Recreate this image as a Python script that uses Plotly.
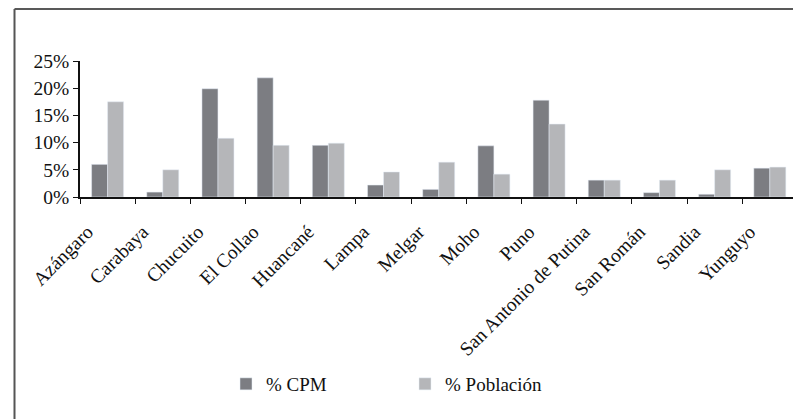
import plotly.graph_objects as go

categories = ["Azángaro", "Carabaya", "Chucuito", "El Collao", "Huancané", "Lampa",
              "Melgar", "Moho", "Puno", "San Antonio de Putina", "San Román", "Sandia", "Yunguyo"]
cpm = [6.0, 0.9, 19.9, 21.9, 9.5, 2.2, 1.4, 9.4, 17.8, 3.1, 0.8, 0.5, 5.3]
poblacion = [17.5, 5.0, 10.8, 9.5, 9.9, 4.6, 6.4, 4.2, 13.4, 3.1, 3.1, 5.0, 5.5]
y_ticks = [0, 5, 10, 15, 20, 25]
y_labels = ["0%", "5%", "10%", "15%", "20%", "25%"]

FONT = "Liberation Serif, serif"

fig = go.Figure()
fig.add_trace(go.Bar(x=categories, y=cpm, name="% CPM", marker_color="#7c7d82"))
fig.add_trace(go.Bar(x=categories, y=poblacion, name="% Población", marker_color="#b5b6b9"))

L, R, T, B = 80, 0, 61, 222
W, H = 793, 419
pw = W - L - R
ph = H - T - B

fig.update_layout(
    width=W, height=H,
    margin=dict(l=L, r=R, t=T, b=B, autoexpand=False),
    paper_bgcolor="white", plot_bgcolor="white",
    barmode="group", bargap=0.42, bargroupgap=0,
    font=dict(family=FONT, color="#111111", size=15),
    showlegend=True,
    legend=dict(orientation="h", x=(226 - L) / pw, xanchor="left",
                y=(H - B - 384) / ph, yanchor="middle",
                font=dict(family=FONT, size=19, color="#111111"),
                entrywidth=134, entrywidthmode="pixels",
                bgcolor="rgba(0,0,0,0)"),
    xaxis=dict(range=[-0.5, 12.42], showline=True, linecolor="#111111", linewidth=1.5,
               ticks="outside", ticklen=5, tickcolor="#111111", tickson="boundaries",
               tickangle=-45, tickfont=dict(family=FONT, size=19.5, color="#111111"),
               ticklabelshift=-20, ticklabelstandoff=14,
               showgrid=False, automargin=False),
    yaxis=dict(range=[0, 25], tickvals=y_ticks, ticktext=y_labels, showline=True,
               linecolor="#111111", linewidth=1.5, ticks="outside", ticklen=5,
               tickcolor="#111111", showgrid=False, zeroline=False, automargin=False,
               tickfont=dict(family=FONT, size=19.5, color="#111111")),
    shapes=[
        dict(type="line", xref="paper", yref="paper",
             x0=(14.5 - L) / pw, x1=1.05, y0=(H - B - 9) / ph, y1=(H - B - 9) / ph,
             line=dict(color="#222222", width=1.5)),
        dict(type="line", xref="paper", yref="paper",
             x0=(14.5 - L) / pw, x1=(14.5 - L) / pw, y0=(H - B - 9) / ph, y1=(H - B - 425) / ph,
             line=dict(color="#555555", width=2)),
    ],
)

fig.write_html("out.html", config={"displayModeBar": False},
               post_script="document.body.style.margin='0';document.body.style.overflow='hidden';")
